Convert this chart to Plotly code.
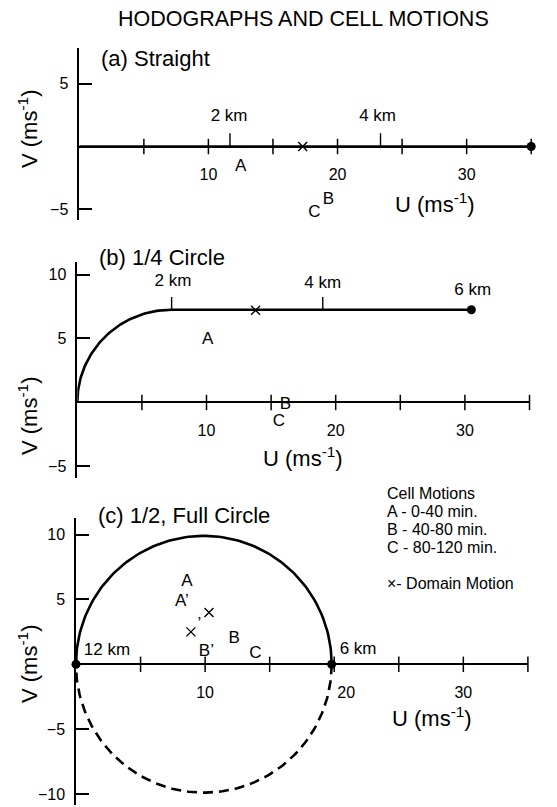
import numpy as np
import plotly.graph_objects as go

W, H = 557, 807
FONT = "Liberation Sans, Arial, Helvetica, sans-serif"

# ---------------- data ----------------
fig_title = "HODOGRAPHS AND CELL MOTIONS"
x_tickmarks = [5, 10, 15, 20, 25, 30, 35]
x_labelvals = [10, 20, 30]
x_ticktext = ["10", "20", "30"]
x_ticktext_c = ["10", "\u2003\u200220", "30"]
u_range = [0, 35]

# (a) Straight hodograph
a_hodo_u = [0, 35]
a_hodo_v = [0, 0]
a_height_u = [11.67, 23.33]          # 2 km, 4 km marks
a_top_u, a_top_v = [35], [0]          # 6 km point
a_km_text = ["2 km", "4 km", "6 km"]
a_km_text_u = [11.6, 23.1, 35.4]
a_km_text_v = [2.35, 2.35, 1.18]
a_domain_u, a_domain_v = [17.3], [0]
a_cell_text = ["A", "B", "C"]
a_cell_u = [12.5, 19.3, 18.2]
a_cell_v = [-1.6, -4.2, -5.3]
a_yticks = [-5, 5]
a_vrange = [-5.85, 7.84]

# (b) 1/4 Circle hodograph
b_radius = 7.3
b_shear_v = 7.25
b_top_u = 30.5
b_height_u = [7.3, 19.0]
b_km_text = ["2 km", "4 km", "6 km"]
b_km_text_u = [7.4, 19.0, 30.6]
b_km_text_v = [9.4, 9.3, 8.73]
b_domain_u, b_domain_v = [13.8], [7.2]
b_cell_text = ["A", "B", "C"]
b_cell_u = [10.1, 16.1, 15.6]
b_cell_v = [4.9, -0.2, -1.5]
b_yticks = [-5, 5, 10]
b_vrange = [-5.9, 11.0]

# (c) 1/2, Full Circle hodograph
c_center_u = 9.9
c_radius = 9.9
c_end_u = [0, 19.8]
c_end_v = [0, 0]
c_km_text = ["12 km", "6 km"]
c_km_text_u = [2.4, 21.85]
c_km_text_v = [1.05, 1.1]
c_domain_u = [10.3, 8.9]
c_domain_v = [4.0, 2.5]
c_prime_u, c_prime_v = [9.55], [3.03]
c_cell_text = ["A", "A’", "B", "B’", "C"]
c_cell_u = [8.6, 8.2, 12.25, 10.1, 13.9]
c_cell_v = [6.4, 4.8, 2.0, 0.97, 0.85]
c_yticks = [-10, -5, 5, 10]
c_vrange = [-10.85, 11.28]

legend_lines = ["Cell Motions", "A - 0-40 min.", "B - 40-80 min.",
                "C - 80-120 min.", "", "×- Domain Motion"]

# ---------------- layout helpers ----------------
def fx(px):
    return px / W

def fy(py):
    return 1 - py / H

# pixel boxes of each panel: (left, right, top, bottom)
boxes = {
    1: (79.3, 531.2, 48.0, 220.0),
    2: (77.3, 529.5, 261.7, 478.0),
    3: (76.0, 527.9, 518.0, 805.0),
}
vranges = {1: a_vrange, 2: b_vrange, 3: c_vrange}
yticks = {1: a_yticks, 2: b_yticks, 3: c_yticks}
xtext = {1: x_ticktext, 2: x_ticktext, 3: x_ticktext_c}

fig = go.Figure()

BLACK = "black"
LW = 2.6


def add(trace, k):
    trace.update(xaxis="x" if k == 1 else f"x{k}", yaxis="y" if k == 1 else f"y{k}")
    trace.cliponaxis = False
    fig.add_trace(trace)


def text_trace(u, v, t, k, size=17):
    add(go.Scatter(x=u, y=v, text=t, mode="text", textposition="middle center",
                   textfont=dict(family=FONT, size=size, color=BLACK),
                   showlegend=False, hoverinfo="skip"), k)


def xticks_trace(k):
    add(go.Scatter(x=x_tickmarks, y=[0] * len(x_tickmarks), mode="markers",
                   marker=dict(symbol="line-ns", size=11,
                               line=dict(width=1.5, color=BLACK)),
                   showlegend=False, hoverinfo="skip"), k)


def domain_trace(u, v, k):
    add(go.Scatter(x=u, y=v, mode="markers",
                   marker=dict(symbol="x-thin", size=9,
                               line=dict(width=1.4, color=BLACK)),
                   showlegend=False, hoverinfo="skip"), k)


def height_marks(u, v0, k, length=1.0):
    xs, ys = [], []
    for uu in u:
        xs += [uu, uu, None]
        ys += [v0, v0 + length, None]
    add(go.Scatter(x=xs, y=ys, mode="lines", line=dict(color=BLACK, width=1.4),
                   showlegend=False, hoverinfo="skip"), k)


def dots(u, v, k):
    add(go.Scatter(x=u, y=v, mode="markers",
                   marker=dict(symbol="circle", size=9, color=BLACK),
                   showlegend=False, hoverinfo="skip"), k)

# ---- panel (a)
xticks_trace(1)
add(go.Scatter(x=a_hodo_u, y=a_hodo_v, mode="lines", line=dict(color=BLACK, width=LW),
               showlegend=False, hoverinfo="skip"), 1)
height_marks(a_height_u, 0, 1, 1.05)
dots(a_top_u, a_top_v, 1)
domain_trace(a_domain_u, a_domain_v, 1)
text_trace(a_km_text_u, a_km_text_v, a_km_text, 1)
text_trace(a_cell_u, a_cell_v, a_cell_text, 1)

# ---- panel (b)
xticks_trace(2)
th = np.linspace(np.pi, np.pi / 2, 80)
b_u = list(b_radius + b_radius * np.cos(th)) + [b_top_u]
b_v = list(b_shear_v * np.sin(th)) + [b_shear_v]
add(go.Scatter(x=b_u, y=b_v, mode="lines", line=dict(color=BLACK, width=LW),
               showlegend=False, hoverinfo="skip"), 2)
height_marks(b_height_u, b_shear_v, 2, 1.0)
dots([b_top_u], [b_shear_v], 2)
domain_trace(b_domain_u, b_domain_v, 2)
text_trace(b_km_text_u, b_km_text_v, b_km_text, 2)
text_trace(b_cell_u, b_cell_v, b_cell_text, 2)

# ---- panel (c)
xticks_trace(3)
th_up = np.linspace(np.pi, 0, 120)
th_dn = np.linspace(0, -np.pi, 120)
add(go.Scatter(x=c_center_u + c_radius * np.cos(th_up), y=c_radius * np.sin(th_up),
               mode="lines", line=dict(color=BLACK, width=LW),
               showlegend=False, hoverinfo="skip"), 3)
add(go.Scatter(x=c_center_u + c_radius * np.cos(th_dn), y=c_radius * np.sin(th_dn),
               mode="lines", line=dict(color=BLACK, width=LW, dash="10px,6px"),
               showlegend=False, hoverinfo="skip"), 3)
dots(c_end_u, c_end_v, 3)
domain_trace(c_domain_u, c_domain_v, 3)
text_trace(c_prime_u, c_prime_v, ["’"], 3)
text_trace(c_km_text_u, c_km_text_v, c_km_text, 3)
text_trace(c_cell_u, c_cell_v, c_cell_text, 3)

# ---------------- axes ----------------
layout = {}
for k, (l, r, t, b) in boxes.items():
    vmin, vmax = vranges[k]
    yd = [fy(b), fy(t)]
    pos0 = yd[0] + (0 - vmin) / (vmax - vmin) * (yd[1] - yd[0])
    xn = "xaxis" if k == 1 else f"xaxis{k}"
    yn = "yaxis" if k == 1 else f"yaxis{k}"
    xref = "x" if k == 1 else f"x{k}"
    layout[xn] = dict(domain=[fx(l), fx(r)], range=u_range, anchor="free",
                      position=pos0, showline=True, linecolor=BLACK, linewidth=1.5,
                      tickvals=x_labelvals, ticktext=xtext[k], ticks="",
                      ticklabelstandoff=14, showgrid=False, zeroline=False,
                      tickfont=dict(family=FONT, size=16, color=BLACK), fixedrange=True)
    layout[yn] = dict(domain=yd, range=[vmin, vmax], anchor=xref,
                      showline=True, linecolor=BLACK, linewidth=1.5,
                      tickvals=yticks[k], ticks="inside", ticklen=13, tickwidth=1.5,
                      tickcolor=BLACK, ticklabelstandoff=6, showgrid=False, zeroline=False,
                      tickfont=dict(family=FONT, size=16, color=BLACK), fixedrange=True)

annotations = []


def ann(px, py, text, size, xanchor="center", angle=0):
    annotations.append(dict(x=fx(px), y=fy(py), xref="paper", yref="paper",
                            text=text, showarrow=False, xanchor=xanchor, yanchor="middle",
                            textangle=angle, borderpad=0,
                            font=dict(family=FONT, size=size, color=BLACK)))

ann(303.5, 19, fig_title, 21.5)
ann(100, 59, "(a) Straight", 22, "left")
ann(98, 257.5, "(b) 1/4 Circle", 22, "left")
ann(97, 515, "(c) 1/2, Full Circle", 22, "left")
for py in (129, 416, 664):
    ann(28, py, "V (ms<sup>-1</sup>)", 22, angle=-90)
for px, py in ((435, 203), (303, 457), (432, 717)):
    ann(px, py, "U (ms<sup>-1</sup>)", 22)
for i, line in enumerate(legend_lines):
    if line:
        ann(386, 493 + 18 * i, line, 16, "left")

fig.update_layout(width=W, height=H, margin=dict(l=0, r=0, t=0, b=0),
                  paper_bgcolor="white", plot_bgcolor="white",
                  showlegend=False, annotations=annotations, **layout)

fig.write_html("out.html")
